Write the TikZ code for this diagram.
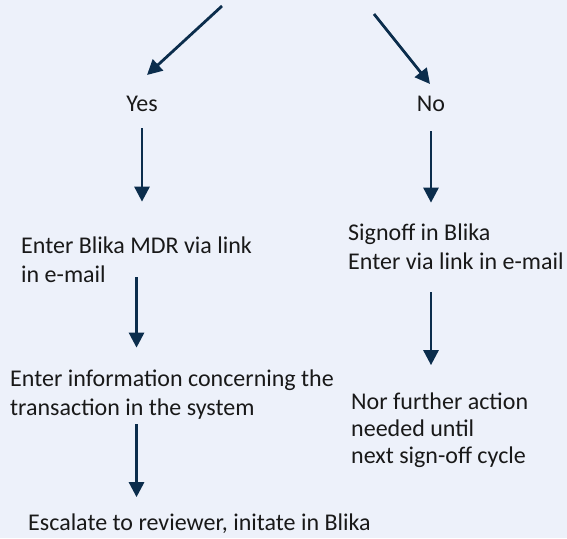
\documentclass[tikz,border=0pt]{standalone}
\usepackage{fontspec}
\setmainfont{Carlito}
\usetikzlibrary{arrows.meta}
\definecolor{pagebg}{HTML}{EDF1FA}
\definecolor{navy}{HTML}{0B2D4C}
\tikzset{
  flow/.style={draw=navy, line width=2.8pt, -{Triangle[length=15pt,width=15pt]}},
  txt/.style={inner sep=0pt, align=left, text=black!90, font=\fontsize{24}{28.5}\selectfont},
}
\begin{document}
\begin{tikzpicture}[x=1pt,y=-1pt]
\fill[pagebg] (0,0) rectangle (567,538);
\useasboundingbox (0,0) rectangle (567,538);

% answers
\node[txt, anchor=base] (yes) at (142,111) {Yes};
\node[txt, anchor=base] (no) at (431,111) {No};

% yes branch (base = last line)
\node[txt, anchor=base west] (mdr) at (21,282) {Enter Blika MDR via link\\in e-mail};
\node[txt, anchor=base west] (info) at (10,415) {Enter information concerning the\\transaction in the system};
\node[txt, anchor=base west] (esc) at (28,530) {Escalate to reviewer, initate in Blika};

% no branch
\node[txt, anchor=base west] (signoff) at (348,269) {Signoff in Blika\\Enter via link in e-mail};
\node[txt, anchor=base west, font=\fontsize{24}{27}\selectfont] (nor) at (351,463) {Nor further action\\needed until\\next sign-off cycle};

% arrows from above
\coordinate (topL) at (222,6);
\coordinate (tipL) at (147,75);
\coordinate (topR) at (374,14);
\coordinate (tipR) at (430,84);
\draw[flow] (topL) -- (tipL);
\draw[flow] (topR) -- (tipR);

\draw[flow] ([yshift=-17pt]yes.south) -- ([yshift=35pt]yes.south |- mdr.north);
\draw[flow] ([yshift=5pt]mdr.south) -- ([yshift=22pt]mdr.south |- info.north);
\draw[flow] ([yshift=-5pt]info.south -| mdr.south) -- ([yshift=16pt]esc.north -| mdr.south);
\draw[flow] ([yshift=-20pt]no.south) -- ([yshift=21pt]no.south |- signoff.north);
\draw[flow] ([yshift=-23pt]signoff.south -| no.south) -- ([yshift=27pt]nor.north -| no.south);
\end{tikzpicture}
\end{document}
